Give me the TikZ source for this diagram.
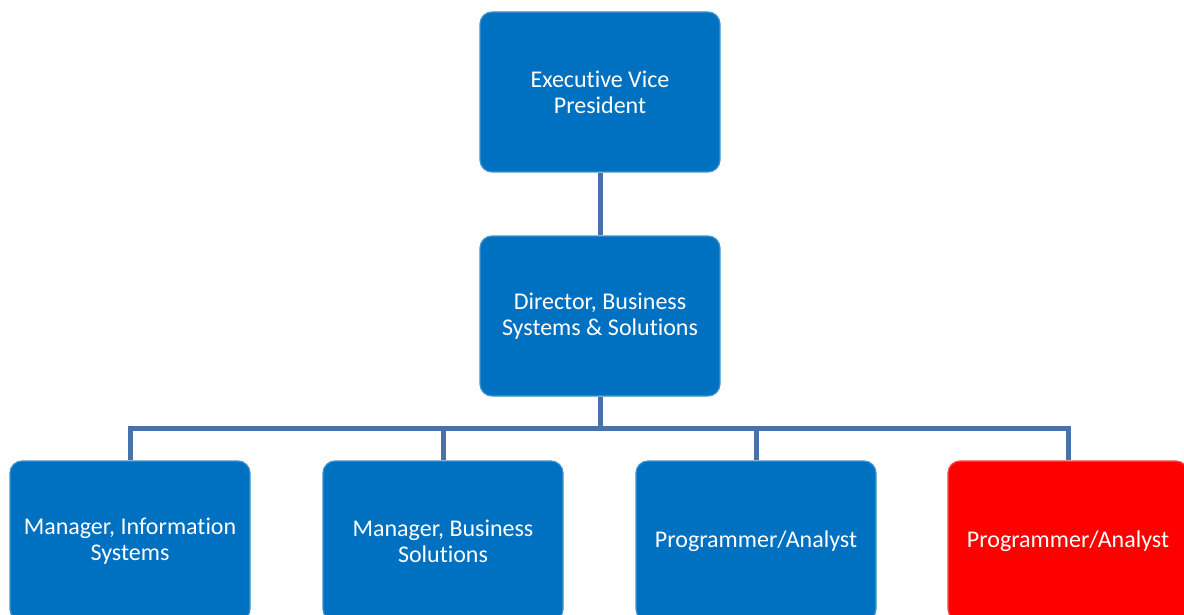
\documentclass[tikz,border=0pt]{standalone}
\usepackage{fontspec}
\setmainfont{Carlito}[Ligatures=NoCommon]
\usetikzlibrary{positioning}

\definecolor{boxblue}{HTML}{0070C0}
\definecolor{boxred}{HTML}{FF0000}
\definecolor{linkblue}{HTML}{4A72A8}

\begin{document}
\begin{tikzpicture}[x=1pt, y=-1pt,
  post/.style={rounded corners=12pt, fill=boxblue, draw=boxblue!75!white, line width=1.2pt,
    minimum width=240pt, minimum height=160pt, align=center, text=white,
    font=\fontsize{24}{26}\selectfont},
  link/.style={draw=linkblue, line width=5pt}]
  \clip (0,0) rectangle (1184,615);
  \useasboundingbox (0,0) rectangle (1184,615);

  \node[post] (ev) at (600,92) {Executive Vice\\President};
  \node[post] (dir) at (600,316) {Director, Business\\Systems \& Solutions};

  \node[post] (mis) at (130,541) {Manager, Information\\Systems};
  \node[post] (mbs) at (443,541) {Manager, Business\\Solutions};
  \node[post] (pa1) at (756,541) {Programmer/Analyst};
  \node[post, fill=boxred, draw=boxred!70!white] (pa2) at (1068,541) {Programmer/Analyst};

  \coordinate (bus) at (600,428);
  \draw[link] (ev) -- (dir);
  \draw[link] (dir) -- (bus);
  \foreach \n in {mis,mbs,pa1,pa2} \draw[link] (bus) -| (\n.north);
\end{tikzpicture}
\end{document}
